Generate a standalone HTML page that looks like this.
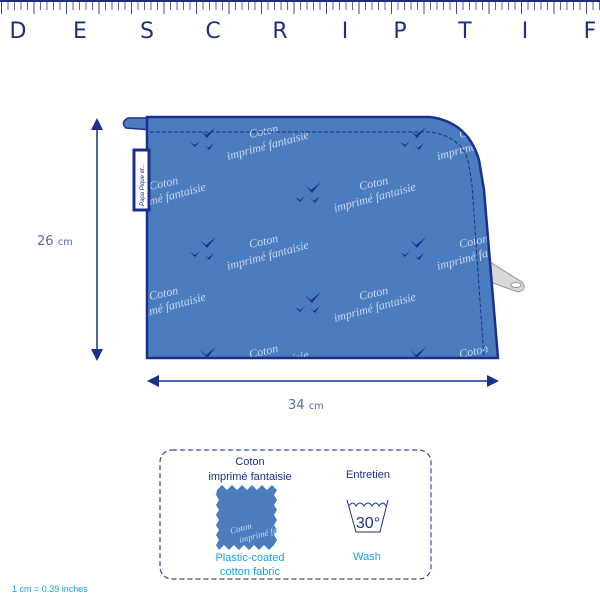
<!DOCTYPE html>
<html><head><meta charset="utf-8"><style>
body{margin:0;background:#fff;}
svg{display:block}
</style></head><body>
<svg width="600" height="600" viewBox="0 0 600 600" xmlns="http://www.w3.org/2000/svg" font-family="Liberation Sans, sans-serif">
<defs>
<pattern id="ticks" width="6.5" height="16" patternUnits="userSpaceOnUse">
<rect x="1" y="0" width="1" height="10" fill="#5868b0"/>
</pattern>
<pattern id="longt" width="32.5" height="20" patternUnits="userSpaceOnUse">
<rect x="1" y="0" width="1" height="14" fill="#3a4a9a"/>
</pattern>
<pattern id="fab" width="210" height="110" patternUnits="userSpaceOnUse" x="130" y="110">
<rect width="210" height="110" fill="#4a7cbe"/>
<g fill="#1c2f8c">
<path d="M70 20 l6 5 l10 -8 l-9 11 z"/><path d="M60 32 l5 3 l5 -4 l-5 6z"/><path d="M74 35 l4 3 l6 -5 l-5 7z"/>
<path d="M175 75 l6 5 l10 -8 l-9 11 z"/><path d="M165 87 l5 3 l5 -4 l-5 6z"/><path d="M180 88 l4 3 l6 -5 l-5 7z"/>
</g>
<g fill="#c9d8f0" font-family="Liberation Serif, serif" font-style="italic" font-size="12">
<text x="120" y="28" transform="rotate(-12 120 28)">Coton</text>
<text x="98" y="50" transform="rotate(-15 98 50)">imprimé fantaisie</text>
<text x="20" y="80" transform="rotate(-12 20 80)">Coton</text>
<text x="-5" y="102" transform="rotate(-15 -5 102)">imprimé fantaisie</text>
<text x="205" y="102" transform="rotate(-15 205 102)">imprimé fantaisie</text>
</g>
</pattern>
</defs>
<!-- ruler -->
<rect x="0" y="0" width="600" height="2" fill="#1f2f7a"/>
<rect x="0" y="2" width="600" height="10" fill="url(#ticks)"/>
<rect x="0" y="2" width="600" height="14" fill="url(#longt)"/>
<g fill="#1f2f7a" font-size="22" text-anchor="middle" font-family="DejaVu Sans, sans-serif" font-weight="normal">
<text x="18" y="38">D</text><text x="80" y="38">E</text><text x="147" y="38">S</text><text x="213" y="38">C</text><text x="280" y="38">R</text><text x="345" y="38">I</text><text x="400" y="38">P</text><text x="465" y="38">T</text><text x="525" y="38">I</text><text x="590" y="38">F</text>
</g>
<!-- zip pull -->
<path d="M490 262 L522 282 Q528 290 518 292 L490 282 Z" fill="#d8d8d8" stroke="#999"/>
<ellipse cx="516" cy="285" rx="5" ry="2.5" fill="#fff" stroke="#999"/>
<!-- loop -->
<path d="M152 118 L128 118 Q120 122 126 128 L152 130 Z" fill="#4a7cbe" stroke="#1c2f8c" stroke-width="1.5"/>
<!-- bag -->
<path d="M147 117 L430 117 Q468 122 479 160 L484 190 L498 358 L147 358 Z" fill="url(#fab)" stroke="#1c2f8c" stroke-width="2.5"/>
<path d="M150 132 L430 132 Q460 136 468 160 L472 185 L484 358" fill="none" stroke="#1c2f8c" stroke-dasharray="4 2" stroke-width="1"/>
<!-- label -->
<rect x="134" y="150" width="15" height="60" fill="#fff" stroke="#1c2f8c" stroke-width="3"/>
<text x="144" y="206" font-size="6" fill="#1c2f8c" font-style="italic" transform="rotate(-90 144 206)">Papa Pique et...</text>
<!-- arrows -->
<g fill="#1c2f8c" stroke="#1c2f8c">
<line x1="97" y1="128" x2="97" y2="350" stroke-width="1.5"/>
<path d="M91 130 L97 118 L103 130Z" stroke="none"/>
<path d="M91 349 L97 361 L103 349Z" stroke="none"/>
<line x1="155" y1="381" x2="490" y2="381" stroke-width="1.5"/>
<path d="M159 375 L147 381 L159 387Z" stroke="none"/>
<path d="M487 375 L499 381 L487 387Z" stroke="none"/>
</g>
<text x="37" y="245" font-size="13" fill="#5a68a8" font-family="DejaVu Sans, sans-serif">26 <tspan font-size="10">cm</tspan></text>
<text x="288" y="409" font-size="13" fill="#5a68a8" font-family="DejaVu Sans, sans-serif">34 <tspan font-size="10">cm</tspan></text>
<!-- info box -->
<rect x="160" y="450" width="271" height="129" rx="12" fill="none" stroke="#3a4a8a" stroke-dasharray="5 3" stroke-width="1.2"/>
<g font-size="11" text-anchor="middle" fill="#1c2f8c">
<text x="250" y="465">Coton</text>
<text x="250" y="480">imprimé fantaisie</text>
<text x="368" y="478">Entretien</text>
</g>
<path d="M217 490 l5 -5 l5 5 l5 -5 l5 5 l5 -5 l5 5 l5 -5 l5 5 l5 -5 l5 5 l5 -5 l5 5 l-3 5 l3 5 l-3 5 l3 5 l-3 5 l3 5 l-3 5 l3 5 l-3 5 l3 5 l-3 5 l-5 5 l-5 -5 l-5 5 l-5 -5 l-5 5 l-5 -5 l-5 5 l-5 -5 l-5 5 l-5 -5 l-5 5 l-3 -5 l3 -5 l-3 -5 l3 -5 l-3 -5 l3 -5 l-3 -5 l3 -5 l-3 -5 l3 -5 l-3 -5z" fill="#4a7cbe"/>
<text x="231" y="534" font-size="9" fill="#c9d8f0" font-style="italic" font-family="Liberation Serif, serif" transform="rotate(-15 231 534)">Coton</text>
<text x="240" y="543" font-size="9" fill="#c9d8f0" font-style="italic" font-family="Liberation Serif, serif" transform="rotate(-15 240 543)">imprimé fa</text>
<g fill="none" stroke="#1c2f8c" stroke-width="1">
<path d="M347 500 L356 532 L380 532 L388 500"/>
<path d="M349 506 q4 -6 7 0 q4 -6 8 0 q4 -6 8 0 q4 -6 7 0 q4 -6 7 0"/>
</g>
<text x="368" y="528" font-size="16" fill="#1c2f8c" text-anchor="middle">30°</text>
<g font-size="11" text-anchor="middle" fill="#1aa0d8">
<text x="250" y="561">Plastic-coated</text>
<text x="250" y="575">cotton fabric</text>
<text x="367" y="560">Wash</text>
</g>
<text x="12" y="592" font-size="9" fill="#1aa0d8">1 cm = 0.39 inches</text>
</svg>
</body></html>
